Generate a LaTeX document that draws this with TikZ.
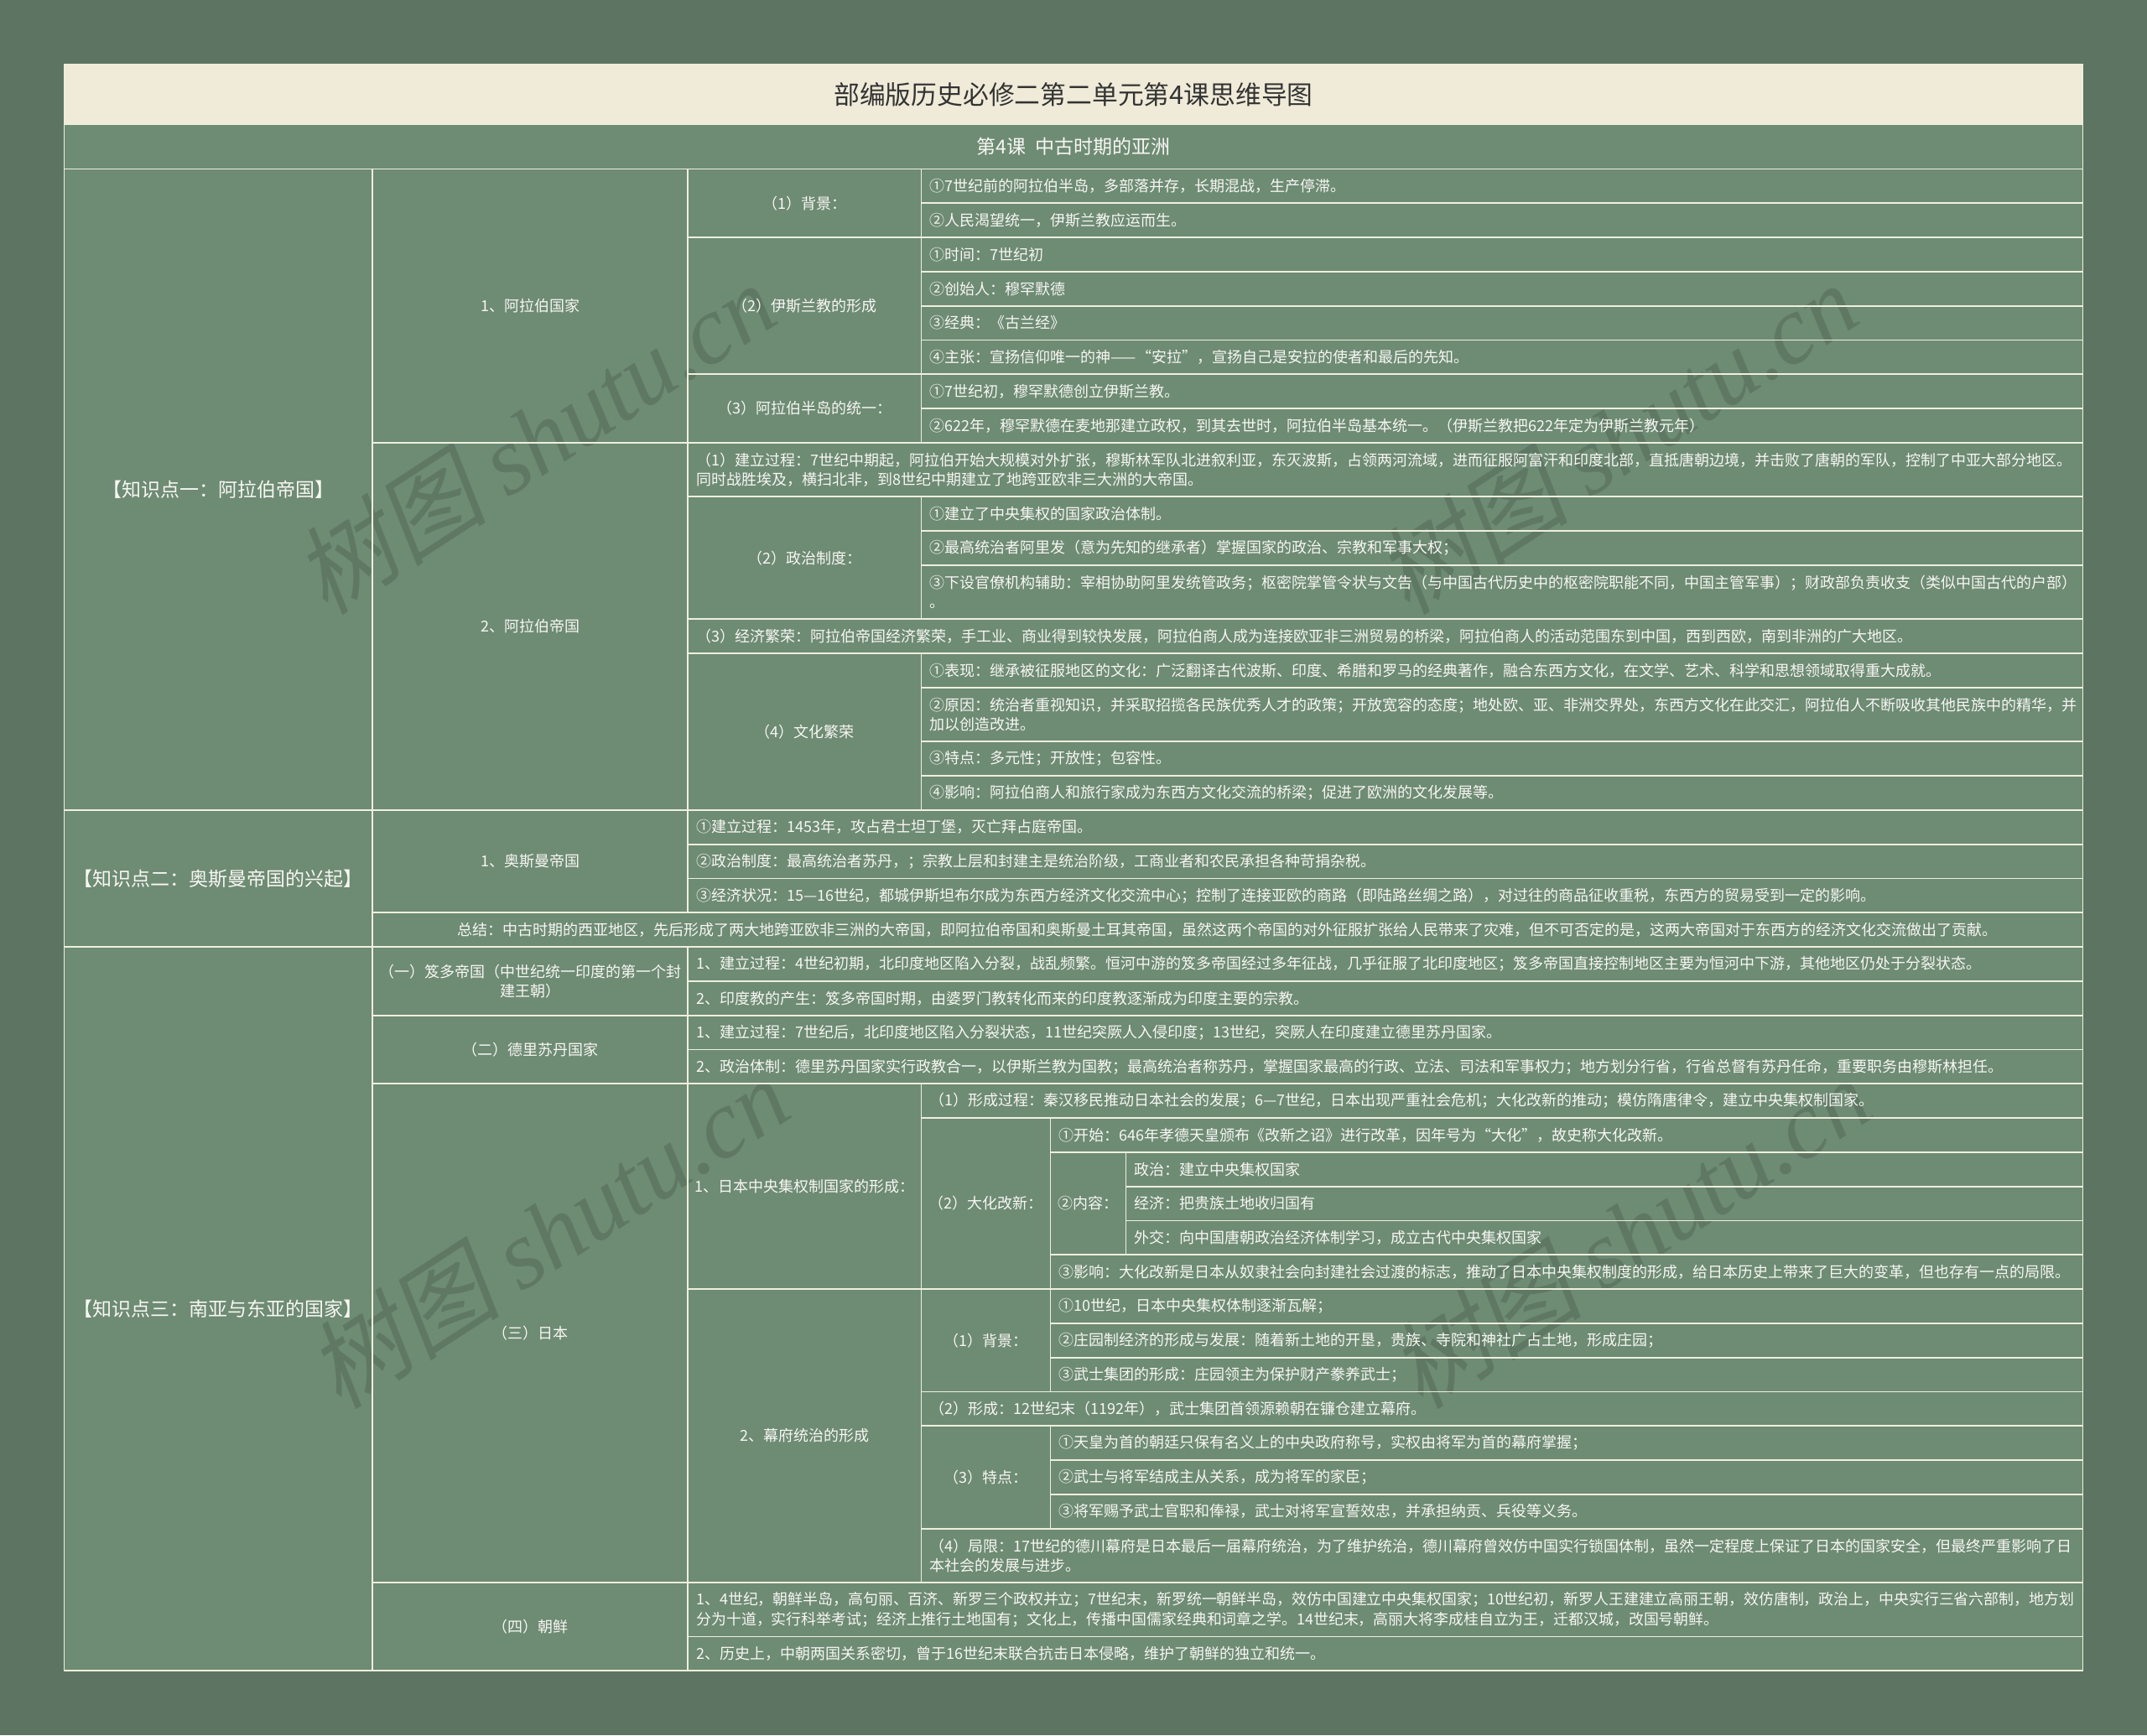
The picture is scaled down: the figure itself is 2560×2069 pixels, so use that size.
\documentclass[tikz,border=0pt]{standalone}
\usepackage{fontspec}
\setmainfont{Noto Sans CJK SC}
\newfontfamily\wmcjk[FakeSlant=0.2]{Noto Sans CJK SC}
\newfontfamily\wmlatin{Liberation Serif}
\usetikzlibrary{calc}

\definecolor{bgc}{HTML}{5D7462}
\definecolor{cellc}{HTML}{6E8B74}
\definecolor{titlec}{HTML}{F0EBD9}
\definecolor{linec}{HTML}{EEF0DC}
\definecolor{textc}{HTML}{F7F7F2}
\definecolor{titletextc}{HTML}{333333}
\definecolor{shadowc}{HTML}{3E4F42}

\tikzset{
	gridline/.style={draw=linec, line width=0.9pt},
	celltext/.style={text=textc, inner sep=0pt, font=\fontsize{9pt}{11.7pt}\selectfont},
	kpfont/.style={font=\fontsize{11.5pt}{14pt}\selectfont},
	titletext/.style={text=titletextc, inner sep=0pt, font=\fontsize{15.4pt}{18pt}\selectfont},
	watermark/.style={text=shadowc, opacity=0.3, inner sep=0pt, rotate=33, font=\fontsize{58pt}{60pt}\selectfont},
}

% centred cell: [options]{name}{left}{top}{right}{bottom}{text}
\newcommand{\ccell}[7][]{%
	\draw[gridline] (#3|-#4) rectangle (#5|-#6);
	\node[celltext, align=center, #1] (#2) at ($(#3|-#4)!0.5!(#5|-#6)$) {#7};
}
% leaf cell, text set from the left edge
\newcommand{\lcell}[7][]{%
	\draw[gridline] (#3|-#4) rectangle (#5|-#6);
	\node[celltext, align=left, anchor=west, #1] (#2) at ($(#3|-#4)!0.5!(#3|-#6)+(10,0)$) {#7};
}

\begin{document}
\begin{tikzpicture}[x=0.5pt, y=-0.5pt]
	\fill[bgc] (0,0) rectangle (2560,2069);
	\useasboundingbox (0,0) rectangle (2560,2069);

	% columns and rows
	\coordinate (c0) at (76.5,0);
	\coordinate (c1) at (444,0);
	\coordinate (c2) at (820,0);
	\coordinate (c3) at (1098.5,0);
	\coordinate (c4) at (1252.5,0);
	\coordinate (c5) at (1342.5,0);
	\coordinate (c6) at (2483.5,0);
	\coordinate (t0) at (0,76.5);
	\coordinate (t1) at (0,148.5);
	\foreach \yy [count=\i from 0] in {201.5,242.3,283.1,323.9,364.7,405.5,446.3,487.1,527.9,592.3,
		633.1,673.9,738.3,779.1,819.9,884.3,925.1,965.9,1006.7,1047.5,1088.3,1129.1,1169.9,1210.7,
		1251.5,1292.3,1333.1,1373.9,1414.7,1455.5,1496.3,1537.1,1577.9,1618.7,1659.5,1700.3,1741.1,
		1781.9,1822.7,1887.1,1951.5,1992.3}
		\coordinate (r\i) at (0,\yy);

	\fill[cellc] (c0|-t1) rectangle (c6|-r41);
	\draw[gridline, fill=titlec] (c0|-t0) rectangle (c6|-t1);
	\node[titletext] (title) at ($(c0|-t0)!0.5!(c6|-t1)$) {部编版历史必修二第二单元第4课思维导图};

	% watermarks
	\node[watermark] (wm1) at (637,522) {{\wmcjk 树图} {\wmlatin\itshape shutu.cn}};
	\node[watermark] (wm2) at (1927,522) {{\wmcjk 树图} {\wmlatin\itshape shutu.cn}};
	\node[watermark] (wm3) at (653,1469) {{\wmcjk 树图} {\wmlatin\itshape shutu.cn}};
	\node[watermark] (wm4) at (1943,1469) {{\wmcjk 树图} {\wmlatin\itshape shutu.cn}};

	\ccell[kpfont]{lesson}{c0}{t1}{c6}{r0}{第4课\hspace{0.5em}中古时期的亚洲}

	% first level
	\ccell[kpfont]{kp1}{c0}{r0}{c1}{r17}{【知识点一：阿拉伯帝国】}
	\ccell[kpfont]{kp2}{c0}{r17}{c1}{r21}{【知识点二：奥斯曼帝国的兴起】}
	\ccell[kpfont]{kp3}{c0}{r21}{c1}{r41}{【知识点三：南亚与东亚的国家】}

	% second level
	\ccell{arab}{c1}{r0}{c2}{r8}{1、阿拉伯国家}
	\ccell{arabemp}{c1}{r8}{c2}{r17}{2、阿拉伯帝国}
	\ccell{otto}{c1}{r17}{c2}{r20}{1、奥斯曼帝国}
	\ccell{summary}{c1}{r20}{c6}{r21}{总结：中古时期的西亚地区，先后形成了两大地跨亚欧非三洲的大帝国，即阿拉伯帝国和奥斯曼土耳其帝国，虽然这两个帝国的对外征服扩张给人民带来了灾难，但不可否定的是，这两大帝国对于东西方的经济文化交流做出了贡献。}
	\ccell{gupta}{c1}{r21}{c2}{r23}{（一）笈多帝国（中世纪统一印度的第一个封\\建王朝）}
	\ccell{delhi}{c1}{r23}{c2}{r25}{（二）德里苏丹国家}
	\ccell{japan}{c1}{r25}{c2}{r39}{（三）日本}
	\ccell{korea}{c1}{r39}{c2}{r41}{（四）朝鲜}

	% arab state
	\ccell{arabbg}{c2}{r0}{c3}{r2}{（1）背景：}
	\ccell{islam}{c2}{r2}{c3}{r6}{（2）伊斯兰教的形成}
	\ccell{unify}{c2}{r6}{c3}{r8}{（3）阿拉伯半岛的统一：}
	\lcell{arabbgA}{c3}{r0}{c6}{r1}{①7世纪前的阿拉伯半岛，多部落并存，长期混战，生产停滞。}
	\lcell{arabbgB}{c3}{r1}{c6}{r2}{②人民渴望统一，伊斯兰教应运而生。}
	\lcell{islamA}{c3}{r2}{c6}{r3}{①时间：7世纪初}
	\lcell{islamB}{c3}{r3}{c6}{r4}{②创始人：穆罕默德}
	\lcell{islamC}{c3}{r4}{c6}{r5}{③经典：《古兰经》}
	\lcell{islamD}{c3}{r5}{c6}{r6}{④主张：宣扬信仰唯一的神——“安拉”，宣扬自己是安拉的使者和最后的先知。}
	\lcell{unifyA}{c3}{r6}{c6}{r7}{①7世纪初，穆罕默德创立伊斯兰教。}
	\lcell{unifyB}{c3}{r7}{c6}{r8}{②622年，穆罕默德在麦地那建立政权，到其去世时，阿拉伯半岛基本统一。（伊斯兰教把622年定为伊斯兰教元年）}

	% arab empire
	\lcell{empfound}{c2}{r8}{c6}{r9}{（1）建立过程：7世纪中期起，阿拉伯开始大规模对外扩张，穆斯林军队北进叙利亚，东灭波斯，占领两河流域，进而征服阿富汗和印度北部，直抵唐朝边境，并击败了唐朝的军队，控制了中亚大部分地区。\\同时战胜埃及，横扫北非，到8世纪中期建立了地跨亚欧非三大洲的大帝国。}
	\ccell{emppol}{c2}{r9}{c3}{r12}{（2）政治制度：}
	\lcell{emppolA}{c3}{r9}{c6}{r10}{①建立了中央集权的国家政治体制。}
	\lcell{emppolB}{c3}{r10}{c6}{r11}{②最高统治者阿里发（意为先知的继承者）掌握国家的政治、宗教和军事大权；}
	\lcell{emppolC}{c3}{r11}{c6}{r12}{③下设官僚机构辅助：宰相协助阿里发统管政务；枢密院掌管令状与文告（与中国古代历史中的枢密院职能不同，中国主管军事）；财政部负责收支（类似中国古代的户部）\\。}
	\lcell{empeco}{c2}{r12}{c6}{r13}{（3）经济繁荣：阿拉伯帝国经济繁荣，手工业、商业得到较快发展，阿拉伯商人成为连接欧亚非三洲贸易的桥梁，阿拉伯商人的活动范围东到中国，西到西欧，南到非洲的广大地区。}
	\ccell{empcul}{c2}{r13}{c3}{r17}{（4）文化繁荣}
	\lcell{empculA}{c3}{r13}{c6}{r14}{①表现：继承被征服地区的文化：广泛翻译古代波斯、印度、希腊和罗马的经典著作，融合东西方文化，在文学、艺术、科学和思想领域取得重大成就。}
	\lcell{empculB}{c3}{r14}{c6}{r15}{②原因：统治者重视知识，并采取招揽各民族优秀人才的政策；开放宽容的态度；地处欧、亚、非洲交界处，东西方文化在此交汇，阿拉伯人不断吸收其他民族中的精华，并\\加以创造改进。}
	\lcell{empculC}{c3}{r15}{c6}{r16}{③特点：多元性；开放性；包容性。}
	\lcell{empculD}{c3}{r16}{c6}{r17}{④影响：阿拉伯商人和旅行家成为东西方文化交流的桥梁；促进了欧洲的文化发展等。}

	% ottoman
	\lcell{ottoA}{c2}{r17}{c6}{r18}{①建立过程：1453年，攻占君士坦丁堡，灭亡拜占庭帝国。}
	\lcell{ottoB}{c2}{r18}{c6}{r19}{②政治制度：最高统治者苏丹，；宗教上层和封建主是统治阶级，工商业者和农民承担各种苛捐杂税。}
	\lcell{ottoC}{c2}{r19}{c6}{r20}{③经济状况：15—16世纪，都城伊斯坦布尔成为东西方经济文化交流中心；控制了连接亚欧的商路（即陆路丝绸之路），对过往的商品征收重税，东西方的贸易受到一定的影响。}

	% india
	\lcell{guptaA}{c2}{r21}{c6}{r22}{1、建立过程：4世纪初期，北印度地区陷入分裂，战乱频繁。恒河中游的笈多帝国经过多年征战，几乎征服了北印度地区；笈多帝国直接控制地区主要为恒河中下游，其他地区仍处于分裂状态。}
	\lcell{guptaB}{c2}{r22}{c6}{r23}{2、印度教的产生：笈多帝国时期，由婆罗门教转化而来的印度教逐渐成为印度主要的宗教。}
	\lcell{delhiA}{c2}{r23}{c6}{r24}{1、建立过程：7世纪后，北印度地区陷入分裂状态，11世纪突厥人入侵印度；13世纪，突厥人在印度建立德里苏丹国家。}
	\lcell{delhiB}{c2}{r24}{c6}{r25}{2、政治体制：德里苏丹国家实行政教合一，以伊斯兰教为国教；最高统治者称苏丹，掌握国家最高的行政、立法、司法和军事权力；地方划分行省，行省总督有苏丹任命，重要职务由穆斯林担任。}

	% japan
	\ccell{jpcen}{c2}{r25}{c3}{r31}{1、日本中央集权制国家的形成：}
	\lcell{jpcenA}{c3}{r25}{c6}{r26}{（1）形成过程：秦汉移民推动日本社会的发展；6—7世纪，日本出现严重社会危机；大化改新的推动；模仿隋唐律令，建立中央集权制国家。}
	\ccell{taika}{c3}{r26}{c4}{r31}{（2）大化改新：}
	\lcell{taikaA}{c4}{r26}{c6}{r27}{①开始：646年孝德天皇颁布《改新之诏》进行改革，因年号为“大化”，故史称大化改新。}
	\ccell{taikaB}{c4}{r27}{c5}{r30}{②内容：}
	\lcell{taikaBa}{c5}{r27}{c6}{r28}{政治：建立中央集权国家}
	\lcell{taikaBb}{c5}{r28}{c6}{r29}{经济：把贵族土地收归国有}
	\lcell{taikaBc}{c5}{r29}{c6}{r30}{外交：向中国唐朝政治经济体制学习，成立古代中央集权国家}
	\lcell{taikaC}{c4}{r30}{c6}{r31}{③影响：大化改新是日本从奴隶社会向封建社会过渡的标志，推动了日本中央集权制度的形成，给日本历史上带来了巨大的变革，但也存有一点的局限。}
	\ccell{shogun}{c2}{r31}{c3}{r39}{2、幕府统治的形成}
	\ccell{shogbg}{c3}{r31}{c4}{r34}{（1）背景：}
	\lcell{shogbgA}{c4}{r31}{c6}{r32}{①10世纪，日本中央集权体制逐渐瓦解；}
	\lcell{shogbgB}{c4}{r32}{c6}{r33}{②庄园制经济的形成与发展：随着新土地的开垦，贵族、寺院和神社广占土地，形成庄园；}
	\lcell{shogbgC}{c4}{r33}{c6}{r34}{③武士集团的形成：庄园领主为保护财产豢养武士；}
	\lcell{shogform}{c3}{r34}{c6}{r35}{（2）形成：12世纪末（1192年），武士集团首领源赖朝在镰仓建立幕府。}
	\ccell{shogfeat}{c3}{r35}{c4}{r38}{（3）特点：}
	\lcell{shogfeatA}{c4}{r35}{c6}{r36}{①天皇为首的朝廷只保有名义上的中央政府称号，实权由将军为首的幕府掌握；}
	\lcell{shogfeatB}{c4}{r36}{c6}{r37}{②武士与将军结成主从关系，成为将军的家臣；}
	\lcell{shogfeatC}{c4}{r37}{c6}{r38}{③将军赐予武士官职和俸禄，武士对将军宣誓效忠，并承担纳贡、兵役等义务。}
	\lcell{shoglim}{c3}{r38}{c6}{r39}{（4）局限：17世纪的德川幕府是日本最后一届幕府统治，为了维护统治，德川幕府曾效仿中国实行锁国体制，虽然一定程度上保证了日本的国家安全，但最终严重影响了日\\本社会的发展与进步。}

	% korea
	\lcell[font=\fontsize{8.95pt}{11.7pt}\selectfont]{koreaA}{c2}{r39}{c6}{r40}{1、4世纪，朝鲜半岛，高句丽、百济、新罗三个政权并立；7世纪末，新罗统一朝鲜半岛，效仿中国建立中央集权国家；10世纪初，新罗人王建建立高丽王朝，效仿唐制，政治上，中央实行三省六部制，地方划\\分为十道，实行科举考试；经济上推行土地国有；文化上，传播中国儒家经典和词章之学。14世纪末，高丽大将李成桂自立为王，迁都汉城，改国号朝鲜。}
	\lcell{koreaB}{c2}{r40}{c6}{r41}{2、历史上，中朝两国关系密切，曾于16世纪末联合抗击日本侵略，维护了朝鲜的独立和统一。}
\end{tikzpicture}
\end{document}
